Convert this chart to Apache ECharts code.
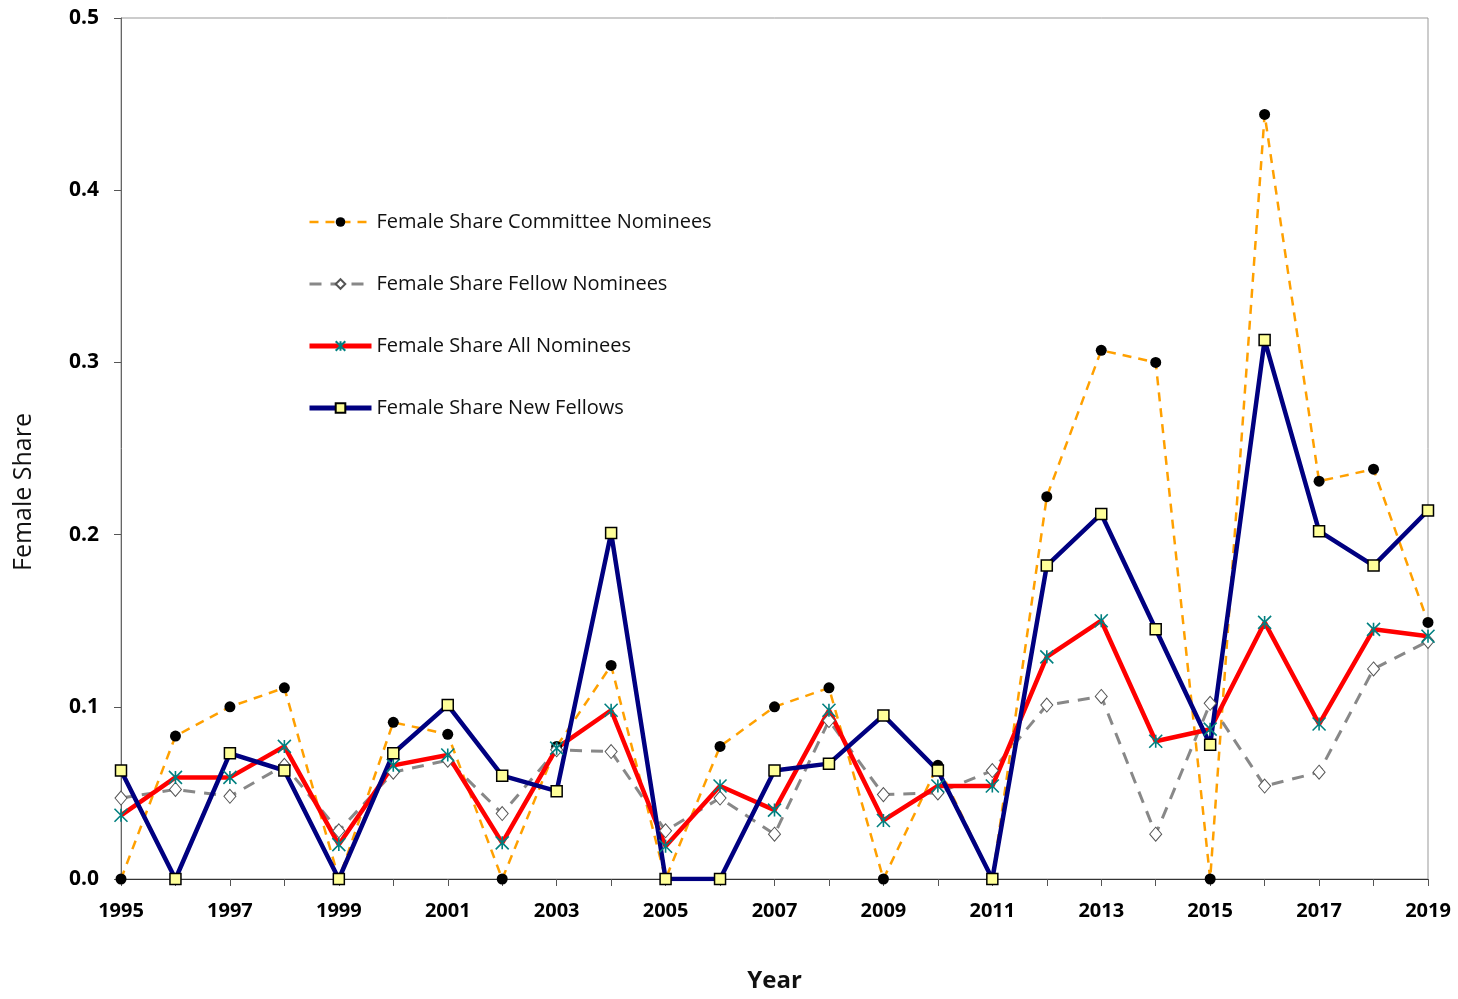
<!DOCTYPE html>
<html>
<head>
<meta charset="utf-8">
<script src="https://cdn.jsdelivr.net/npm/echarts@6/dist/echarts.min.js"></script>
<style>
  html, body { margin: 0; padding: 0; background: #fff; }
  #chart { width: 1458px; height: 999px; }
</style>
</head>
<body>
<div id="chart"></div>
<script>
const years = ['1995','1996','1997','1998','1999','2000','2001','2002','2003','2004','2005','2006',
  '2007','2008','2009','2010','2011','2012','2013','2014','2015','2016','2017','2018','2019'];

const committee = [0, 0.083, 0.100, 0.111, 0, 0.091, 0.084, 0, 0.077, 0.124, 0, 0.077,
  0.100, 0.111, 0, 0.066, 0, 0.222, 0.307, 0.300, 0, 0.444, 0.231, 0.238, 0.149];
const fellowNominees = [0.047, 0.052, 0.048, 0.066, 0.028, 0.062, 0.069, 0.038, 0.075, 0.074, 0.028, 0.047,
  0.026, 0.092, 0.049, 0.050, 0.063, 0.101, 0.106, 0.026, 0.102, 0.054, 0.062, 0.122, 0.138];
const allNominees = [0.037, 0.059, 0.059, 0.077, 0.020, 0.066, 0.072, 0.021, 0.076, 0.098, 0.019, 0.054,
  0.040, 0.098, 0.034, 0.054, 0.054, 0.129, 0.150, 0.080, 0.087, 0.149, 0.090, 0.145, 0.141];
const newFellows = [0.063, 0, 0.073, 0.063, 0, 0.073, 0.101, 0.060, 0.051, 0.201, 0, 0,
  0.063, 0.067, 0.095, 0.063, 0, 0.182, 0.212, 0.145, 0.078, 0.313, 0.202, 0.182, 0.214];

const names = ['Female Share Committee Nominees', 'Female Share Fellow Nominees',
  'Female Share All Nominees', 'Female Share New Fellows'];

const starPath = 'path://M0,0 L10,10 M10,0 L0,10 M5,0 L5,10';

const chart = echarts.init(document.getElementById('chart'));
chart.setOption({
  animation: false,
  backgroundColor: '#fff',
  grid: {
    left: 121, right: 30, top: 18, bottom: 120,
    show: true, borderColor: '#999', borderWidth: 1
  },
  graphic: [{
    type: 'text',
    left: 11, top: 413,
    rotation: Math.PI / 2,
    style: { text: 'Female Share', fontFamily: 'Open Sans', fontSize: 25, fill: '#111' }
  }],
  legend: {
    orient: 'vertical',
    left: 302,
    top: 207,
    itemWidth: 62,
    itemHeight: 12,
    itemGap: 42,
    data: [
      { name: names[0], lineStyle: { width: 2.5 } },
      { name: names[1], lineStyle: { width: 3 } },
      { name: names[2], lineStyle: { width: 5 } },
      { name: names[3], lineStyle: { width: 5 } }
    ],
    textStyle: { fontFamily: 'Open Sans', fontSize: 20, color: '#111', lineHeight: 20 }
  },
  xAxis: {
    type: 'category',
    data: years,
    boundaryGap: false,
    name: 'Year',
    nameLocation: 'middle',
    nameGap: 90,
    nameTextStyle: { fontFamily: 'Open Sans', fontSize: 24, fontWeight: 'bold', color: '#111' },
    axisLine: { lineStyle: { color: '#333', width: 1 } },
    axisTick: { show: true, interval: 0, length: 7, lineStyle: { color: '#555' } },
    axisLabel: { interval: 1, margin: 22, fontFamily: 'Open Sans', fontSize: 20, fontWeight: 'bold', color: '#000' },
    splitLine: { show: false }
  },
  yAxis: {
    type: 'value',
    min: 0, max: 0.5, interval: 0.1,
    axisLine: { show: true, lineStyle: { color: '#666', width: 1 } },
    axisTick: { show: true, length: 7, lineStyle: { color: '#555' } },
    axisLabel: { margin: 22, fontFamily: 'Open Sans', fontSize: 21, fontWeight: 'bold', color: '#000',
      formatter: v => v.toFixed(1) },
    splitLine: { show: false }
  },
  series: [
    {
      name: names[0], type: 'line', data: committee,
      symbol: 'circle', symbolSize: 11,
      itemStyle: { color: '#000' },
      lineStyle: { color: '#FFA000', width: 2.5, type: [9, 7] }
    },
    {
      name: names[1], type: 'line', data: fellowNominees,
      symbol: 'diamond', symbolSize: [12, 14],
      itemStyle: { color: '#fff', borderColor: '#555', borderWidth: 1 },
      lineStyle: { color: '#888', width: 3, type: [12, 9] }
    },
    {
      name: names[2], type: 'line', data: allNominees,
      symbol: starPath, symbolSize: 13,
      itemStyle: { color: '#008080', borderColor: '#008080', borderWidth: 1.6 },
      lineStyle: { color: '#FF0000', width: 4.5 }
    },
    {
      name: names[3], type: 'line', data: newFellows,
      symbol: 'rect', symbolSize: 11,
      itemStyle: { color: '#FFFF99', borderColor: '#000', borderWidth: 1.5 },
      lineStyle: { color: '#000080', width: 4.5 }
    }
  ]
});
</script>
</body>
</html>
